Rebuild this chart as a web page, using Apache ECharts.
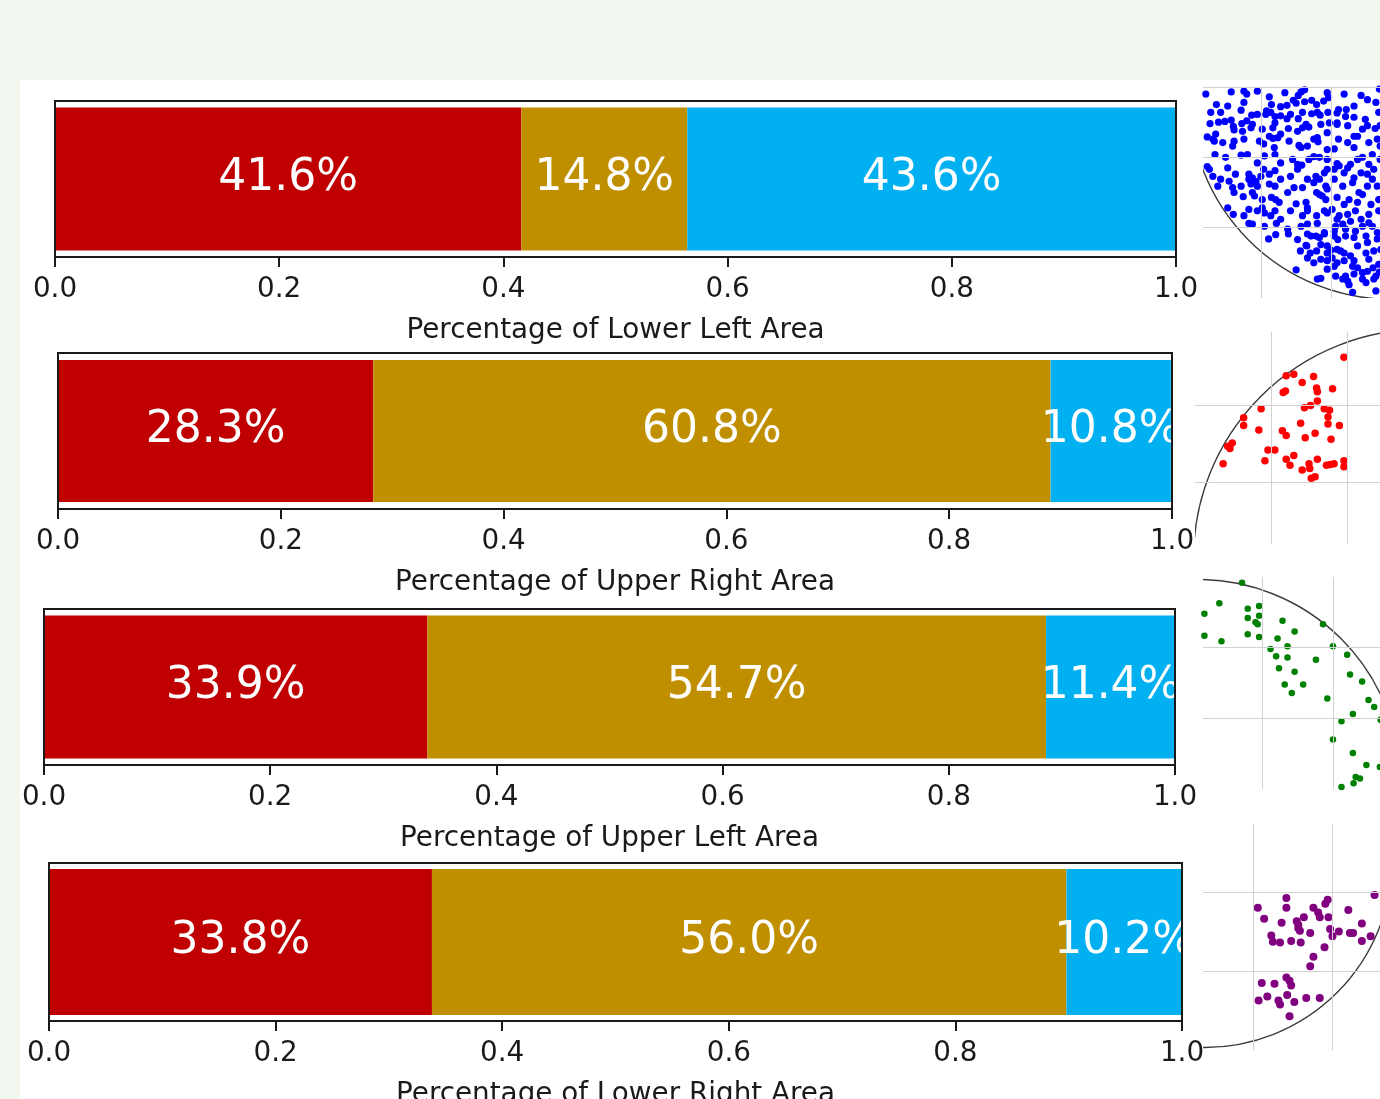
<!DOCTYPE html>
<html>
<head>
<meta charset="utf-8">
<script src="https://cdn.jsdelivr.net/npm/echarts/dist/echarts.min.js"></script>
<style>
  html, body { margin: 0; padding: 0; background: #f1f6ee; }
  #sheet { position: absolute; left: 20px; top: 80px; width: 1360px; height: 1019px; background: #ffffff; }
  #chart { position: absolute; left: 0; top: 0; width: 1380px; height: 1099px; }
</style>
</head>
<body>
<div id="sheet"></div>
<div id="chart"></div>
<script>
// ---- data -------------------------------------------------------------
const areaTitles = [
  'Percentage of Lower Left Area',
  'Percentage of Upper Right Area',
  'Percentage of Upper Left Area',
  'Percentage of Lower Right Area'
];
const segmentNames = ['Red', 'Gold', 'Blue'];

// share of each segment per area (fractions of 1)
const sharesLowerLeft  = [0.416, 0.148, 0.436];
const sharesUpperRight = [0.283, 0.608, 0.108];
const sharesUpperLeft  = [0.339, 0.547, 0.114];
const sharesLowerRight = [0.338, 0.560, 0.102];

const tickValues = [0, 0.2, 0.4, 0.6, 0.8, 1.0];

// sample points shown beside each bar (inset units: grid lines at 1 and 2)
const pointsLowerLeft = [
[0.22,2.90],[0.58,2.93],[0.76,2.94],[0.80,2.90],[0.95,2.94],[1.12,2.86],[1.34,2.92],[1.53,2.88],[1.57,2.93],[1.62,2.96],[1.94,2.92],[2.18,2.90],[2.42,2.88],[2.68,2.97],
[0.37,2.75],[0.53,2.73],[0.72,2.67],[1.08,2.66],[1.15,2.75],[1.28,2.72],[1.37,2.74],[1.46,2.81],[1.50,2.77],[1.62,2.79],[1.72,2.81],[1.79,2.75],[1.89,2.80],[1.96,2.85],[2.10,2.68],[2.21,2.68],[2.63,2.78],
[0.87,2.60],[0.80,2.52],[0.73,2.48],[0.61,2.44],[0.58,2.53],[0.49,2.51],[0.40,2.50],[0.28,2.48],[1.07,2.61],[1.14,2.64],[1.20,2.58],[1.28,2.59],[1.37,2.55],[1.53,2.55],[1.59,2.64],[1.72,2.62],[1.80,2.64],[1.84,2.60],[1.95,2.64],[2.08,2.63],[2.08,2.49],[2.20,2.58],[2.32,2.57],[2.48,2.54],[2.67,2.64],
[0.62,2.39],[0.74,2.37],[0.86,2.42],[0.88,2.47],[1.02,2.40],[1.17,2.42],[1.20,2.49],[1.28,2.33],[1.39,2.41],[1.52,2.37],[1.59,2.42],[1.64,2.47],[1.68,2.43],[1.94,2.35],[2.08,2.47],[2.23,2.45],[2.32,2.30],[2.44,2.40],[2.51,2.45],[2.62,2.41],[2.69,2.45],[0.36,2.33],[0.24,2.29],[0.32,2.26],
[0.34,2.23],[0.46,2.21],[0.60,2.16],[0.62,2.23],[0.76,2.26],[0.98,2.23],[1.04,2.19],[1.12,2.30],[1.17,2.27],[1.24,2.28],[1.19,2.14],[1.40,2.23],[1.54,2.17],[1.57,2.14],[1.66,2.16],[1.75,2.26],[1.80,2.28],[1.81,2.22],[1.94,2.11],[2.04,2.12],[2.10,2.26],[2.23,2.21],[2.37,2.30],[2.53,2.21],[2.65,2.26],[2.69,2.16],
[0.35,2.04],[0.50,2.00],[0.72,2.03],[0.81,2.04],[1.05,2.02],[1.20,2.04],[1.28,1.92],[1.45,1.97],[1.52,1.90],[1.58,1.89],[1.68,1.97],[1.75,2.01],[1.83,2.00],[1.94,1.97],[2.08,1.91],[2.23,1.85],[2.37,1.97],[2.44,2.00],[2.53,1.90],[2.69,1.97],[0.24,1.87],[0.27,1.83],
[0.64,1.76],[0.83,1.76],[0.88,1.71],[1.00,1.73],[1.12,1.76],[1.20,1.81],[1.52,1.83],[1.53,1.87],[1.66,1.69],[1.78,1.73],[1.90,1.78],[2.04,1.83],[2.11,1.88],[2.18,1.78],[2.32,1.71],[2.51,1.76],[2.58,1.69],[2.60,1.83],[0.32,1.73],
[0.39,1.59],[0.55,1.66],[0.60,1.57],[0.83,1.69],[0.86,1.62],[0.93,1.66],[0.95,1.59],[1.12,1.62],[1.20,1.59],[1.47,1.57],[1.59,1.57],[1.75,1.64],[1.92,1.59],[1.94,1.55],[2.04,1.69],[2.16,1.59],[2.30,1.64],[2.39,1.50],[2.51,1.59],[2.65,1.59],
[0.88,1.50],[0.91,1.45],[1.02,1.40],[1.15,1.43],[1.21,1.40],[1.26,1.36],[1.50,1.34],[1.64,1.36],[1.66,1.28],[1.79,1.50],[1.83,1.47],[1.87,1.45],[1.92,1.40],[2.08,1.43],[2.18,1.33],[2.25,1.40],[2.37,1.36],[2.44,1.47],[2.56,1.33],[2.67,1.40],[0.75,1.44],[0.62,1.50],
[0.53,1.28],[0.61,1.19],[0.76,1.17],[0.83,1.26],[0.95,1.24],[1.02,1.28],[1.05,1.21],[1.14,1.17],[1.20,1.24],[1.66,1.24],[1.79,1.17],[1.90,1.24],[1.94,1.21],[2.11,1.17],[2.23,1.19],[2.27,1.09],[2.34,1.24],[2.53,1.19],[2.67,1.24],
[0.83,1.06],[0.88,1.05],[1.22,1.06],[1.38,0.98],[1.57,1.02],[1.66,1.05],[1.80,1.06],[1.90,0.93],[2.04,0.95],[2.06,1.02],[2.16,1.05],[2.20,0.98],[2.34,0.95],[2.44,1.02],[2.53,1.07],[2.65,0.93],
[1.11,0.84],[1.21,0.90],[1.39,0.91],[1.66,0.91],[1.71,0.88],[1.83,0.86],[1.90,0.91],[2.04,0.88],[2.09,0.83],[2.20,0.88],[2.32,0.86],[2.51,0.79],[2.65,0.84],[1.64,0.75],
[1.56,0.67],[1.65,0.74],[1.70,0.64],[1.79,0.67],[1.85,0.76],[1.94,0.74],[1.99,0.68],[2.08,0.69],[2.13,0.67],[2.18,0.64],[2.27,0.60],[2.49,0.64],[2.60,0.67],
[1.66,0.57],[1.75,0.50],[1.85,0.55],[1.94,0.53],[2.01,0.57],[2.08,0.50],[2.18,0.53],[2.30,0.45],[2.37,0.43],[2.44,0.36],[2.51,0.38],[2.59,0.43],[2.67,0.48],[1.50,0.40],[1.94,0.41],[2.04,0.45],
[1.80,0.27],[1.85,0.28],[2.16,0.27],[2.20,0.31],[2.23,0.24],[2.32,0.34],[2.60,0.27],[2.68,0.37],[2.30,0.08],[2.63,0.10],[2.25,0.19],[2.49,0.22],
[0.95,1.92],[1.04,1.83],[0.53,1.85],[0.43,1.69],[0.72,1.59],[1.28,1.69],[1.38,1.50],[1.42,1.73],[2.01,1.26],[2.08,1.12],
[2.42,1.12],[2.58,1.02],[2.49,0.88],[2.37,0.74],[2.70,0.69],[2.32,0.53],[2.53,0.55],[2.63,0.31],[2.44,0.27],[2.06,0.31],
[1.94,0.64],[1.78,0.88],[1.52,0.83],[1.59,1.17],[1.42,1.24],[1.28,1.12],[1.05,1.02],[1.94,1.83],[1.83,1.69],[2.42,1.78],
[2.27,1.90],[2.58,2.04],[2.32,2.14],[1.97,2.49],[1.85,2.47],[1.42,2.61],[0.95,2.61],[0.76,2.78],[0.43,2.64],[0.29,2.64],
[2.51,2.82],[2.32,2.73]
];
const pointsUpperRight = [
[1.96,2.63],[1.20,2.39],[1.30,2.41],[1.56,2.38],[1.41,2.30],[1.16,2.17],[1.19,2.19],[1.60,2.23],[1.61,2.18],[1.81,2.22],
[1.61,2.06],[0.87,1.96],[1.44,1.97],[1.52,2.00],[1.70,1.96],[1.77,1.94],[1.75,1.85],[1.75,1.76],[0.64,1.84],[0.64,1.74],
[0.84,1.68],[1.39,1.77],[1.90,1.74],[1.15,1.67],[1.20,1.61],[1.45,1.58],[1.58,1.64],[1.79,1.56],[0.49,1.51],[0.43,1.47],
[0.46,1.44],[0.96,1.42],[1.05,1.42],[1.30,1.35],[1.20,1.30],[1.25,1.22],[1.61,1.30],[0.37,1.24],[0.92,1.28],[1.41,1.16],
[1.50,1.24],[1.51,1.18],[1.73,1.22],[1.78,1.23],[1.83,1.24],[1.96,1.28],[1.96,1.20],[1.53,1.05],[1.58,1.07]
];
const pointsUpperLeft = [
[0.72,2.92],[0.40,2.63],[0.19,2.48],[0.19,2.17],[0.43,2.09],[0.80,2.55],[0.96,2.59],[0.80,2.42],[0.96,2.45],[0.91,2.36],
[0.94,2.33],[0.80,2.19],[0.96,2.15],[1.29,2.38],[1.46,2.23],[1.22,2.13],[1.36,2.02],[1.12,1.98],[1.20,1.88],[1.36,1.86],
[1.24,1.71],[1.46,1.66],[1.32,1.48],[1.58,1.48],[1.42,1.36],[1.76,1.83],[1.86,2.33],[2.00,2.02],[2.20,1.90],[2.24,1.62],
[2.41,1.52],[1.92,1.28],[2.50,1.26],[2.58,1.16],[2.28,1.06],[2.12,0.96],[2.67,0.98],[2.00,0.70],[2.28,0.51],[2.47,0.34],
[2.32,0.17],[2.38,0.15],[2.29,0.08],[2.12,0.03],[2.66,0.31]
];
const pointsLowerRight = [
[2.53,1.96],[1.42,1.92],[1.06,1.80],[1.42,1.80],[1.76,1.80],[1.94,1.90],[1.91,1.85],[2.20,1.77],[1.14,1.66],[1.36,1.61],
[1.55,1.63],[1.64,1.68],[1.57,1.58],[1.82,1.74],[1.84,1.68],[1.95,1.68],[2.37,1.60],[1.57,1.54],[1.59,1.51],[1.72,1.48],
[1.97,1.53],[2.00,1.44],[2.08,1.50],[2.22,1.48],[2.26,1.48],[2.48,1.44],[2.37,1.38],[1.23,1.45],[1.25,1.37],[1.34,1.36],
[1.48,1.38],[1.60,1.36],[1.90,1.30],[1.76,1.18],[1.72,1.06],[1.11,0.85],[1.27,0.84],[1.42,0.92],[1.46,0.88],[1.48,0.82],
[1.07,0.63],[1.18,0.68],[1.32,0.63],[1.34,0.58],[1.43,0.70],[1.52,0.61],[1.67,0.66],[1.84,0.66],[1.46,0.43]
];

// boundary circle of each inset: [centre x, centre y, radius]
const circleLowerLeft  = [2.85, 2.85, 2.86];
const circleUpperRight = [3.00, 0.00, 3.02];
const circleUpperLeft  = [0.10, 0.10, 2.85];
const circleLowerRight = [0.39, 2.40, 2.36];

// ---- styling / layout ---------------------------------------------------
const segmentColors = ['#c00000', '#bf8f00', '#00b0f0'];
const dotColors = ['#0000ff', '#ff0000', '#008000', '#800080'];
const dotSizes = [7.2, 7.5, 6.5, 8];
const inkColor = '#1a1a1a';
const fontFamily = 'DejaVu Sans';

const barBoxes = [
  { left: 55, top: 101, width: 1121, height: 156, barWidth: 143 },
  { left: 58, top: 353, width: 1114, height: 156, barWidth: 142 },
  { left: 44, top: 609, width: 1131, height: 156, barWidth: 143 },
  { left: 49, top: 863, width: 1133, height: 158, barWidth: 146 }
];
const insetBoxes = [
  { left: 1203, top: 87,    width: 199, height: 211,   x: [0.18, 3], y: [0, 3],    lines: [1, 2, 3] },
  { left: 1195, top: 332,   width: 228, height: 211.5, x: [0, 3],    y: [0.2, 2.96], lines: [1, 2] },
  { left: 1203, top: 577,   width: 201, height: 212,   x: [0.17, 3], y: [0, 3],    lines: [1, 2] },
  { left: 1203, top: 823.5, width: 193, height: 227,   x: [0.37, 2.8], y: [0, 2.86], lines: [1, 2] }
];

const shareSets = [sharesLowerLeft, sharesUpperRight, sharesUpperLeft, sharesLowerRight];
const pointSets = [pointsLowerLeft, pointsUpperRight, pointsUpperLeft, pointsLowerRight];
const circleSets = [circleLowerLeft, circleUpperRight, circleUpperLeft, circleLowerRight];

const grid = [], xAxis = [], yAxis = [], series = [];
const spine = { show: true, lineStyle: { color: inkColor, width: 2 } };

// stacked horizontal bars, one panel per area
barBoxes.forEach((b, i) => {
  grid.push({
    left: b.left, top: b.top, width: b.width, height: b.height,
    containLabel: false, outerBoundsMode: 'none',
    show: true, borderColor: inkColor, borderWidth: 2, backgroundColor: 'transparent'
  });
  xAxis.push({
    type: 'value', gridIndex: i, min: tickValues[0], max: tickValues[tickValues.length - 1],
    interval: tickValues[1] - tickValues[0], z: 6,
    axisLine: spine,
    axisTick: { show: true, inside: false, length: 10, lineStyle: { color: inkColor, width: 2 } },
    axisLabel: {
      margin: 19, color: inkColor, fontSize: 27.8, fontFamily,
      formatter: v => v.toFixed(1), hideOverlap: false
    },
    splitLine: { show: false },
    name: areaTitles[i], nameLocation: 'middle', nameGap: 60, nameMoveOverlap: false,
    nameTextStyle: { color: inkColor, fontSize: 27.8, fontFamily, verticalAlign: 'top' }
  });
  yAxis.push({
    type: 'category', gridIndex: i, data: [areaTitles[i]], position: 'left', z: 6,
    axisLine: spine, axisTick: { show: false }, axisLabel: { show: false }, splitLine: { show: false }
  });
  yAxis.push({
    type: 'category', gridIndex: i, data: [areaTitles[i]], position: 'right', z: 6,
    axisLine: spine, axisTick: { show: false }, axisLabel: { show: false }, splitLine: { show: false }
  });
  shareSets[i].forEach((v, k) => {
    series.push({
      type: 'bar', name: segmentNames[k], stack: 'area' + i,
      xAxisIndex: i, yAxisIndex: 2 * i,
      barWidth: b.barWidth, data: [v],
      itemStyle: { color: segmentColors[k] },
      label: {
        show: true, position: 'inside', color: '#ffffff',
        fontSize: 44, fontFamily,
        formatter: p => (p.value * 100).toFixed(1) + '%'
      },
      silent: true
    });
  });
});

// scatter insets with their boundary circle
insetBoxes.forEach((b, i) => {
  const g = barBoxes.length + i;
  grid.push({ left: b.left, top: b.top, width: b.width, height: b.height, containLabel: false, outerBoundsMode: 'none' });
  xAxis.push({ type: 'value', gridIndex: g, min: b.x[0], max: b.x[1], show: false, splitLine: { show: false } });
  yAxis.push({ type: 'value', gridIndex: g, min: b.y[0], max: b.y[1], show: false, splitLine: { show: false } });
  const yIdx = 2 * barBoxes.length + i;
  series.push({
    type: 'custom', xAxisIndex: g, yAxisIndex: yIdx, clip: true, silent: true, z: 3,
    data: [circleSets[i]],
    renderItem: (params, api) => {
      const c = api.coord([api.value(0), api.value(1)]);
      const r = api.size([api.value(2), 0])[0];
      return {
        type: 'circle',
        shape: { cx: c[0], cy: c[1], r: r },
        style: { fill: 'none', stroke: '#3c3c3c', lineWidth: 1.4 }
      };
    },
    markLine: {
      silent: true, symbol: ['none', 'none'], label: { show: false }, animation: false,
      lineStyle: { color: '#d2d2d2', width: 1, type: 'solid' },
      emphasis: { disabled: true },
      data: [1, 2].map(v => ({ xAxis: v })).concat(b.lines.map(v => ({ yAxis: v })))
    }
  });
  series.push({
    type: 'scatter', xAxisIndex: g, yAxisIndex: yIdx, clip: true, silent: true, z: 4,
    symbolSize: dotSizes[i],
    itemStyle: { color: dotColors[i], opacity: 1 },
    data: pointSets[i]
  });
});

const chart = echarts.init(document.getElementById('chart'), null, { renderer: 'canvas' });
chart.setOption({
  animation: false,
  backgroundColor: 'transparent',
  grid, xAxis, yAxis, series
});
</script>
</body>
</html>
